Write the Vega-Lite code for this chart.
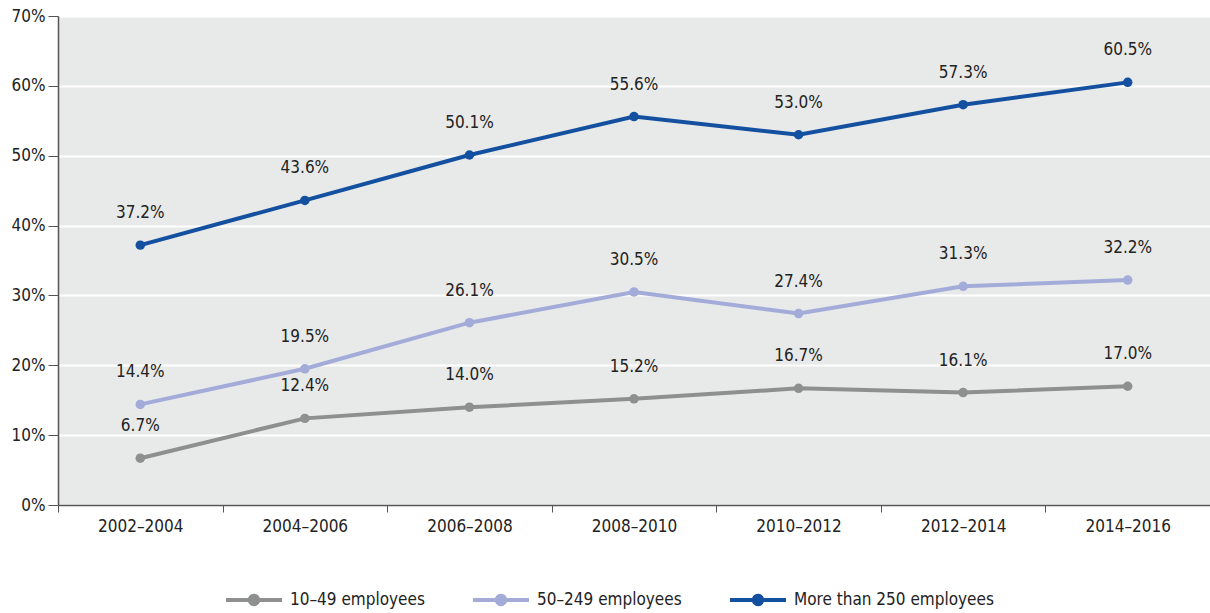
{
  "$schema": "https://vega.github.io/schema/vega-lite/v6.json",
  "width": 1152,
  "height": 489,
  "autosize": {"type": "none"},
  "padding": {"left": 58, "top": 16, "right": 0, "bottom": 108},
  "background": "white",
  "config": {
    "font": "DejaVu Sans Condensed",
    "view": {"fill": "#e8e9e9", "stroke": null},
    "axis": {"labelFont": "DejaVu Sans Condensed", "labelFontSize": 17, "labelColor": "#222222", "domainColor": "#555555", "tickColor": "#555555", "domainWidth": 1.5}
  },
  "data": {
    "values": [
      {"period": "2002–2004", "size": "10–49 employees", "v": 0.067},
      {"period": "2004–2006", "size": "10–49 employees", "v": 0.124},
      {"period": "2006–2008", "size": "10–49 employees", "v": 0.140},
      {"period": "2008–2010", "size": "10–49 employees", "v": 0.152},
      {"period": "2010–2012", "size": "10–49 employees", "v": 0.167},
      {"period": "2012–2014", "size": "10–49 employees", "v": 0.161},
      {"period": "2014–2016", "size": "10–49 employees", "v": 0.170},
      {"period": "2002–2004", "size": "50–249 employees", "v": 0.144},
      {"period": "2004–2006", "size": "50–249 employees", "v": 0.195},
      {"period": "2006–2008", "size": "50–249 employees", "v": 0.261},
      {"period": "2008–2010", "size": "50–249 employees", "v": 0.305},
      {"period": "2010–2012", "size": "50–249 employees", "v": 0.274},
      {"period": "2012–2014", "size": "50–249 employees", "v": 0.313},
      {"period": "2014–2016", "size": "50–249 employees", "v": 0.322},
      {"period": "2002–2004", "size": "More than 250 employees", "v": 0.372},
      {"period": "2004–2006", "size": "More than 250 employees", "v": 0.436},
      {"period": "2006–2008", "size": "More than 250 employees", "v": 0.501},
      {"period": "2008–2010", "size": "More than 250 employees", "v": 0.556},
      {"period": "2010–2012", "size": "More than 250 employees", "v": 0.530},
      {"period": "2012–2014", "size": "More than 250 employees", "v": 0.573},
      {"period": "2014–2016", "size": "More than 250 employees", "v": 0.605}
    ]
  },
  "encoding": {
    "x": {
      "field": "period", "type": "ordinal", "title": null,
      "scale": {"paddingInner": 0, "paddingOuter": 0},
      "axis": {"labelAngle": 0, "tickBand": "extent", "tickSize": 7, "labelPadding": 6, "grid": false}
    },
    "y": {
      "field": "v", "type": "quantitative", "title": null,
      "scale": {"domain": [0, 0.7]},
      "axis": {"format": ".0%", "values": [0, 0.1, 0.2, 0.3, 0.4, 0.5, 0.6, 0.7], "labelOverlap": false, "grid": true, "gridColor": "white", "gridWidth": 2, "tickSize": 10, "labelPadding": 3}
    },
    "color": {
      "field": "size", "type": "nominal",
      "scale": {"domain": ["10–49 employees", "50–249 employees", "More than 250 employees"], "range": ["#8e8f8f", "#a3acd9", "#1350a0"]}
    }
  },
  "layer": [
    {
      "mark": {"type": "line", "strokeWidth": 4},
      "encoding": {
        "color": {
          "field": "size", "type": "nominal",
          "legend": {
            "title": null, "orient": "none", "direction": "horizontal",
            "legendX": 168, "legendY": 556,
            "symbolType": "M-1,-0.07 L1,-0.07 L1,0.07 L-1,0.07 Z M0.22,0 A0.22,0.22 0 1,1 -0.22,0 A0.22,0.22 0 1,1 0.22,0 Z",
            "symbolSize": 3136, "symbolStrokeWidth": 0,
            "labelFont": "DejaVu Sans Condensed",
            "labelFontSize": 17, "labelColor": "#222222", "labelOffset": 8,
            "columnPadding": 48, "labelLimit": 300
          }
        }
      }
    },
    {
      "mark": {"type": "point", "filled": true, "size": 90, "opacity": 1}
    },
    {
      "mark": {"type": "text", "dy": -32, "fontSize": 17, "color": "#222222", "baseline": "middle"},
      "encoding": {
        "text": {"field": "v", "type": "quantitative", "format": ".1%"},
        "color": {"value": "#222222"}
      }
    }
  ]
}
